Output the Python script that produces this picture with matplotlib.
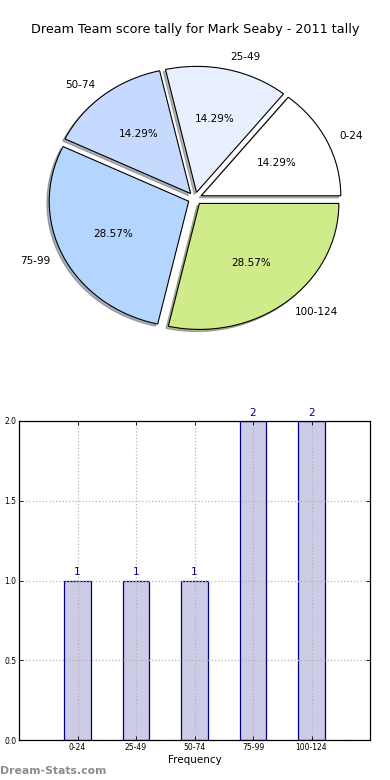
import matplotlib
matplotlib.use("Agg")
import matplotlib.pyplot as plt

categories = ["0-24", "25-49", "50-74", "75-99", "100-124"]
counts = [1, 1, 1, 2, 2]
pie_colors = ["#ffffff", "#e8f0fe", "#c6d9fe", "#b4d5fe", "#d0eb8a"]
yticks = [0.0, 0.5, 1.0, 1.5, 2.0]

fig = plt.figure(figsize=(3.9, 7.8), dpi=100)
fig.patch.set_facecolor("white")

fig.text(0.5, 1 - 30 / 780, "Dream Team score tally for Mark Seaby - 2011 tally",
         ha="center", va="center", fontsize=9.2)

Rx, Ry = 139.5, 126.0
lim = 1.2
w = 2 * lim * Rx
h = 2 * lim * Ry
cx, cy = 195.0, 198.5
ax1 = fig.add_axes([(cx - w / 2) / 390, (780 - cy - h / 2) / 780, w / 390, h / 780])
ax1.pie(counts, labels=categories, colors=pie_colors, explode=[0.05] * len(counts),
        autopct="%.2f%%", shadow={"ox": -0.012, "oy": -0.012, "shade": 0.55},
        startangle=0, labeldistance=1.1,
        wedgeprops=dict(edgecolor="black", linewidth=0.8),
        textprops=dict(fontsize=7.5))
ax1.set_xlim(-lim, lim)
ax1.set_ylim(-lim, lim)
ax1.set_aspect("auto")
ax1.axis("off")

ax2 = fig.add_axes([19 / 390, 40 / 780, 351 / 390, 319 / 780])
x = list(range(len(categories)))
ax2.bar(x, counts, width=0.45, color="#ccccE6", edgecolor="#00008c", linewidth=0.9, zorder=2)
for xi, v in zip(x, counts):
    ax2.text(xi, v + 0.02, str(v), ha="center", va="bottom", fontsize=7.5, color="#00008c")
ax2.set_xlim(-1, 5)
ax2.set_ylim(0, 2.0)
ax2.set_xticks(x)
ax2.set_xticklabels(categories, fontsize=5.5)
ax2.set_yticks(yticks)
ax2.set_yticklabels(["%.1f" % t for t in yticks], fontsize=5.5)
ax2.tick_params(direction="in", length=3, width=0.6, pad=2, top=True, right=True)
ax2.grid(True, linestyle=":", color="#b4b4b4", linewidth=0.9, zorder=3)
ax2.set_axisbelow(False)
ax2.set_xlabel("Frequency", fontsize=7.5, labelpad=2)
for s in ax2.spines.values():
    s.set_linewidth(0.9)
    s.set_zorder(5)

fig.text(0.0, 1 - 771 / 780, "Dream-Stats.com", ha="left", va="center",
         fontsize=7.8, color="#8c8c8c", fontweight="semibold")

fig.savefig("out.png", dpi=100)
